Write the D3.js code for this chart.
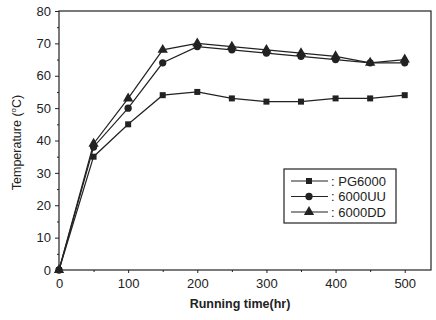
<!DOCTYPE html>
<html><head><meta charset="utf-8">
<script src="https://cdn.jsdelivr.net/npm/d3@7"></script>
<style>body{margin:0;background:#fff}svg{display:block}</style>
</head><body>
<svg id="c" width="436" height="320"></svg>
<script>
const hours = [0, 50, 100, 150, 200, 250, 300, 350, 400, 450, 500];
const pg6000 = [0, 35, 45, 54, 55, 53, 52, 52, 53, 53, 54];
const uu6000 = [0, 38, 50, 64, 69, 68, 67, 66, 65, 64, 64];
const dd6000 = [0, 39, 53, 68, 70, 69, 68, 67, 66, 64, 65];
const seriesNames = [": PG6000", ": 6000UU", ": 6000DD"];
const xTicks = [0, 100, 200, 300, 400, 500];
const yTicks = [0, 10, 20, 30, 40, 50, 60, 70, 80];

const svg = d3.select("#c");
const L = 59, R = 431, T = 11, B = 270;
const x = d3.scaleLinear().domain([0, 538]).range([L, R]);
const y = d3.scaleLinear().domain([0, 80]).range([B, T]);
const ink = "#222";
const font = "Arial, 'Liberation Sans', sans-serif";

// frame
svg.append("rect").attr("x", L).attr("y", T).attr("width", R - L).attr("height", B - T)
  .attr("fill", "none").attr("stroke", ink).attr("stroke-width", 1.2);

// axes
const xAx = svg.append("g").attr("transform", `translate(0,${B})`)
  .call(d3.axisBottom(x).tickValues(xTicks).tickSize(3).tickPadding(6).tickFormat(d3.format("d")));
const xMinor = svg.append("g").attr("transform", `translate(0,${B})`)
  .call(d3.axisBottom(x).tickValues([50,150,250,350,450]).tickSize(2).tickFormat(""));
const yAx = svg.append("g").attr("transform", `translate(${L},0)`)
  .call(d3.axisLeft(y).tickValues(yTicks).tickSize(4).tickPadding(4).tickFormat(d3.format("d")));
const yMinor = svg.append("g").attr("transform", `translate(${L},0)`)
  .call(d3.axisLeft(y).tickValues([5,15,25,35,45,55,65,75]).tickSize(2).tickFormat(""));
[xAx, xMinor, yAx, yMinor].forEach(g => {
  g.select(".domain").remove();
  g.selectAll("line").attr("stroke", ink);
  g.selectAll("text").attr("fill", ink).style("font-family", font).style("font-size", "13px");
});

// labels
svg.append("text").attr("x", (L + R) / 2 - 5).attr("y", 308).attr("text-anchor", "middle")
  .style("font-family", font).style("font-size", "12.5px").style("font-weight", "bold").attr("fill", ink)
  .text("Running time(hr)");
const yl = svg.append("text").attr("transform", `translate(21,${(T + B) / 2 + 2}) rotate(-90)`)
  .attr("text-anchor", "middle").style("font-family", font).style("font-size", "12.5px").attr("fill", ink);
yl.append("tspan").text("Temperature (");
yl.append("tspan").text("o").attr("dy", -5).style("font-size", "8px");
yl.append("tspan").text("C)").attr("dy", 5);

const data = [pg6000, uu6000, dd6000];
const shapes = [d3.symbolSquare, d3.symbolCircle, d3.symbolTriangle];
const sizes = [36, 42, 46];
const line = d3.line().x((d, i) => x(hours[i])).y(d => y(d));

data.forEach((vals, s) => {
  svg.append("path").datum(vals).attr("d", line).attr("fill", "none")
    .attr("stroke", ink).attr("stroke-width", 1.2);
  svg.append("g").selectAll("path").data(vals).join("path")
    .attr("transform", (d, i) => `translate(${x(hours[i])},${y(d)})`)
    .attr("d", d3.symbol().type(shapes[s]).size(sizes[s])).attr("fill", ink);
});

// legend
const lg = svg.append("g");
lg.append("rect").attr("x", 284).attr("y", 169).attr("width", 112).attr("height", 54)
  .attr("fill", "#fff").attr("stroke", ink).attr("stroke-width", 1.2);
seriesNames.forEach((n, i) => {
  const yy = 181 + i * 15.5;
  lg.append("line").attr("x1", 291).attr("x2", 328).attr("y1", yy).attr("y2", yy)
    .attr("stroke", ink).attr("stroke-width", 1.2);
  lg.append("path").attr("transform", `translate(309,${yy})`)
    .attr("d", d3.symbol().type(shapes[i]).size(sizes[i])).attr("fill", ink);
  lg.append("text").attr("x", 331).attr("y", yy + 4.5).text(n)
    .style("font-family", font).style("font-size", "13px").attr("fill", ink);
});
</script>
</body></html>
